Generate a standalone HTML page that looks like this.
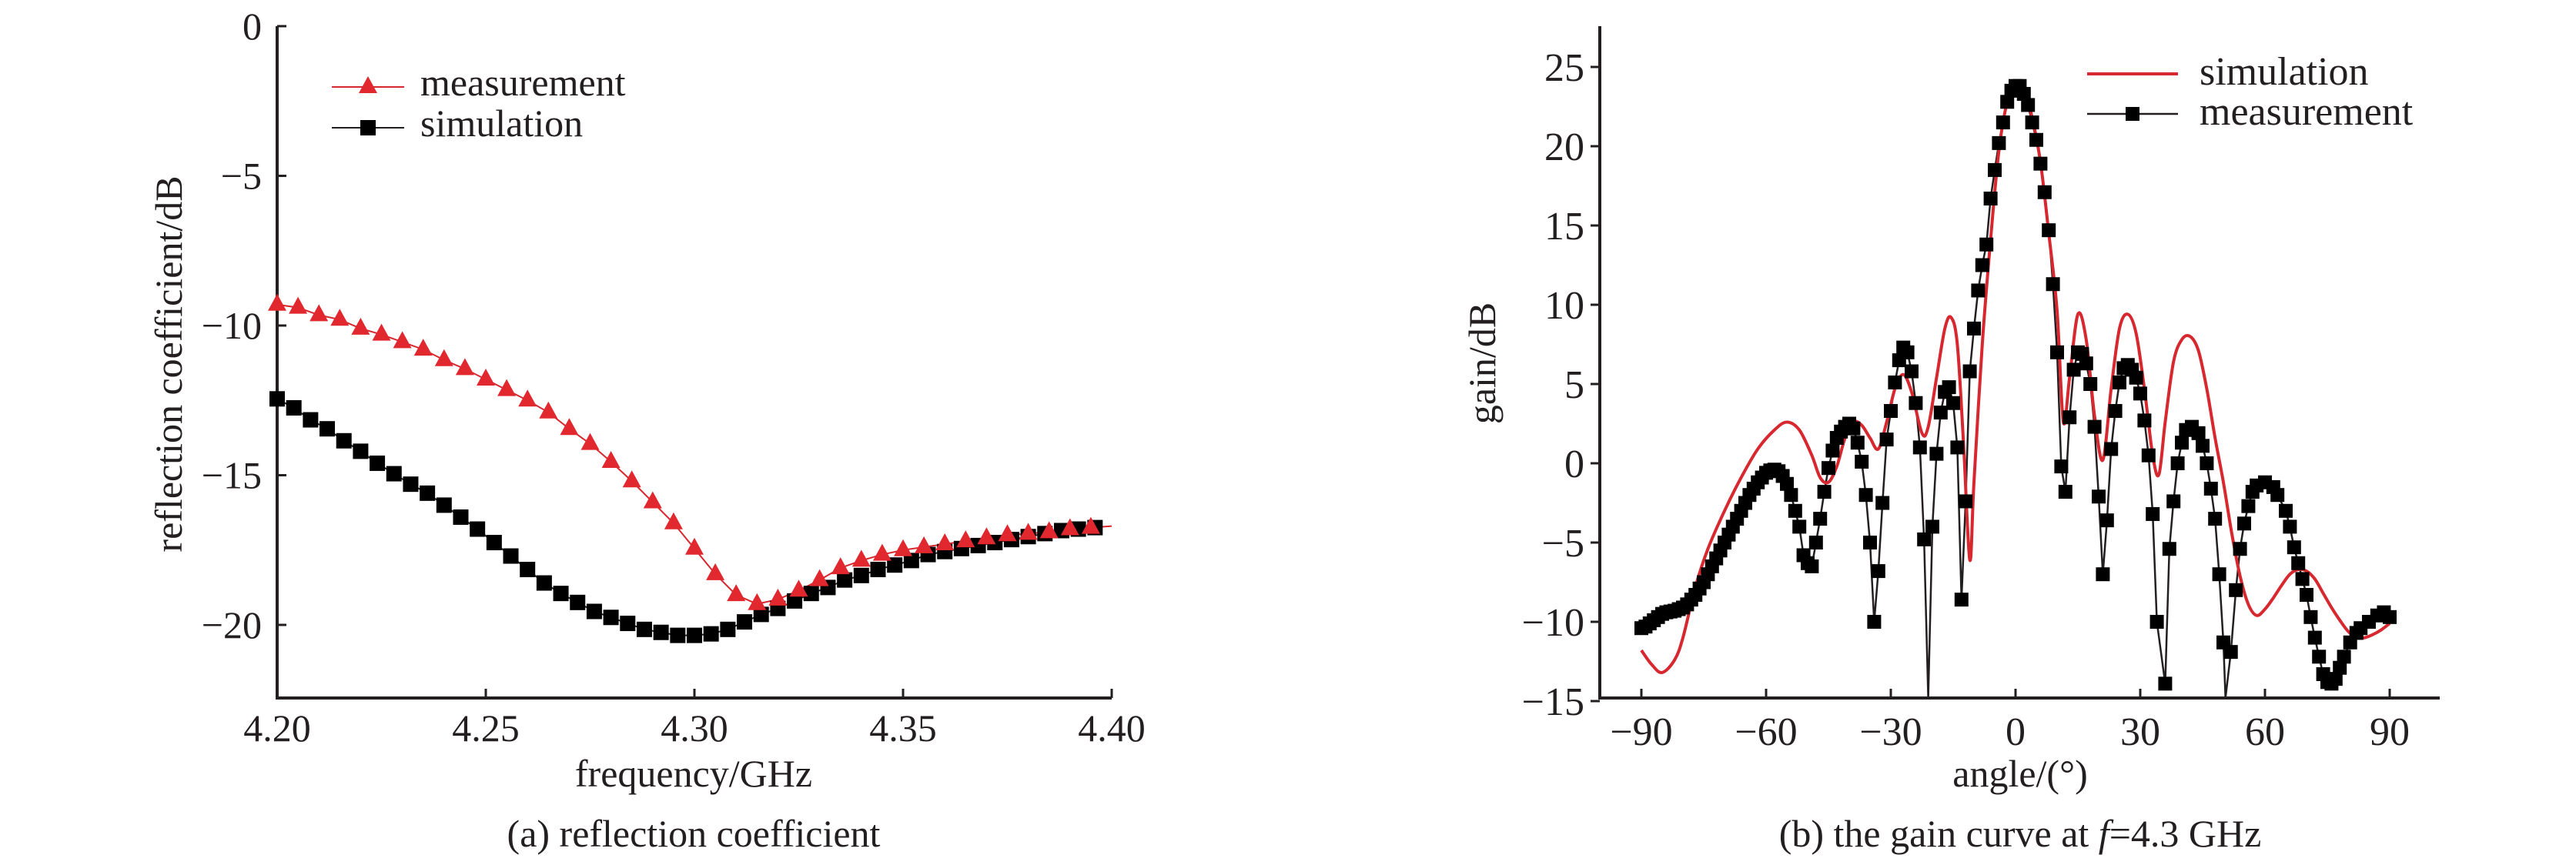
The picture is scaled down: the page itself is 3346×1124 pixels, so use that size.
<!DOCTYPE html>
<html><head><meta charset="utf-8"><style>
html,body{margin:0;padding:0;background:#fff;}
svg{display:block;font-family:"Liberation Serif",serif;}
</style></head><body>
<svg id="fig" width="3346" height="1124" viewBox="0 0 3346 1124" xmlns="http://www.w3.org/2000/svg">
<g id="chartA"></g>
<g id="chartB"></g>
</svg>
<script>
// ---- Chart (a) data ----
const aMeasFreq = [4.200,4.205,4.210,4.215,4.220,4.225,4.230,4.235,4.240,4.245,4.250,4.255,4.260,4.265,4.270,4.275,4.280,4.285,4.290,4.295,4.300,4.305,4.310,4.315,4.320,4.325,4.330,4.335,4.340,4.345,4.350,4.355,4.360,4.365,4.370,4.375,4.380,4.385,4.390,4.395];
const aMeasVal = [-9.3,-9.4,-9.65,-9.8,-10.1,-10.3,-10.55,-10.8,-11.15,-11.45,-11.8,-12.15,-12.5,-12.9,-13.45,-13.95,-14.55,-15.2,-15.9,-16.6,-17.45,-18.3,-19.0,-19.3,-19.15,-18.85,-18.5,-18.1,-17.85,-17.65,-17.5,-17.4,-17.3,-17.2,-17.1,-17.0,-16.95,-16.9,-16.8,-16.75];
const aSimFreq = [4.200,4.204,4.208,4.212,4.216,4.220,4.224,4.228,4.232,4.236,4.240,4.244,4.248,4.252,4.256,4.260,4.264,4.268,4.272,4.276,4.280,4.284,4.288,4.292,4.296,4.300,4.304,4.308,4.312,4.316,4.320,4.324,4.328,4.332,4.336,4.340,4.344,4.348,4.352,4.356,4.360,4.364,4.368,4.372,4.376,4.380,4.384,4.388,4.392,4.396];
const aSimVal = [-12.45,-12.75,-13.15,-13.45,-13.85,-14.2,-14.6,-14.95,-15.3,-15.6,-16.0,-16.4,-16.8,-17.25,-17.7,-18.15,-18.6,-18.95,-19.25,-19.55,-19.75,-19.95,-20.15,-20.25,-20.35,-20.35,-20.3,-20.15,-19.9,-19.65,-19.45,-19.2,-18.95,-18.75,-18.5,-18.35,-18.15,-18.0,-17.85,-17.65,-17.55,-17.45,-17.35,-17.25,-17.15,-17.05,-16.95,-16.85,-16.8,-16.75];
const aXTicks = [4.20,4.25,4.30,4.35,4.40];
const aXTickLabels = ["4.20","4.25","4.30","4.35","4.40"];
const aYTicks = [0,-5,-10,-15,-20];
const aYTickLabels = ["0","\u22125","\u221210","\u221215","\u221220"];

// ---- Chart (b) data ----
const bSimAngle = [-90,-87.5,-85,-82,-80,-77,-74,-70,-66,-62,-58,-55,-52,-49,-47,-45,-43,-41,-39,-37,-35,-33,-31,-29,-27,-25,-22.5,-21,-19,-17,-15.5,-14,-12.5,-11,-10,-8,-6,-4,-2,0,2,4,6,8,10,11.5,13,15,17,19,21,23,25,27,29,31,33,34.5,36,38,40,42,44,46,48,50,52,54,56,58,60,62,64,66,68,70,72,74,76,78,80,82,84,86,88,90];
const bSimGain = [-11.8,-12.7,-13.2,-12.4,-11,-7.8,-5.4,-3.0,-0.9,0.9,2.1,2.6,2.1,0.5,-0.9,-1.2,-0.2,1.6,2.6,2.4,1.6,0.9,2.6,4.7,5.6,4.5,1.9,2.3,5.4,8.5,9.2,7.5,1.2,-6.1,-1.2,7.5,14.1,19.7,22.8,23.9,23.7,21.8,19,14.5,9.6,2.6,5.4,9.4,7.8,3,0.2,4.7,8.5,9.4,8.2,4.7,0.5,-0.7,2.6,6.4,7.8,8.0,7.1,4.7,1.6,-1.2,-4.4,-7.1,-8.9,-9.6,-9.2,-8.5,-7.7,-7.0,-6.7,-6.8,-7.3,-8.2,-9.1,-9.9,-10.6,-11,-11,-10.8,-10.5,-10.1];
const bMeasAngle = [-90,-89,-88,-87,-86,-85,-84,-83,-82,-81,-80,-79,-78,-77,-76,-75,-74,-73,-72,-71,-70,-69,-68,-67,-66,-65,-64,-63,-62,-61,-60,-59,-58,-57,-56,-55,-54,-53,-52,-51,-50,-49,-48,-47,-46,-45,-44,-43,-42,-41,-40,-39,-38,-37,-36,-35,-34,-33,-32,-31,-30,-29,-28,-27,-26,-25,-24,-23,-22,-20,-19,-18,-17,-16,-15,-14,-13,-12,-11,-10,-9,-8,-7,-6,-5,-4,-3,-2,-1,0,1,2,3,4,5,6,7,8,9,10,11,12,13,14,15,16,17,18,19,20,21,22,23,24,25,26,27,28,29,30,31,32,33,34,36,37,38,39,40,41,42.4,44,45,46,47,48,49,50,51.8,53,54,55,56,57,58,60,62,63,65,66,67,68,69,70,71,72,73,74,75,76,77,78,79,80.5,82,83,85,87,88.6,90];
const bMeasGain = [-10.4,-10.3,-10.1,-9.9,-9.7,-9.5,-9.4,-9.35,-9.3,-9.2,-9.1,-8.9,-8.6,-8.3,-7.9,-7.5,-7.0,-6.5,-6.0,-5.5,-5.0,-4.5,-4.0,-3.5,-3.0,-2.5,-2.0,-1.6,-1.2,-0.9,-0.6,-0.45,-0.4,-0.5,-0.8,-1.3,-2.0,-3.0,-4.0,-5.8,-6.3,-6.5,-5.0,-3.5,-1.8,-0.3,0.8,1.6,2.0,2.3,2.5,2.2,1.3,0.1,-2.0,-5.0,-10.0,-6.8,-2.5,1.5,3.3,5.1,6.5,7.3,7.0,5.8,3.8,1.0,-4.8,-4.0,0.6,3.2,4.5,4.8,3.8,1.0,-8.6,-2.4,5.8,8.5,10.9,12.5,13.8,16.7,18.5,20.2,21.5,22.8,23.5,23.8,23.8,23.3,22.6,21.5,20.4,18.9,17.1,14.7,11.3,7.0,-0.2,-1.8,2.9,5.9,7.0,6.9,6.3,5.0,2.3,-2.1,-7.0,-3.6,0.9,3.3,5.1,6.0,6.2,5.9,5.4,4.4,2.7,0.5,-3.2,-10.0,-13.9,-5.4,-2.4,0.0,1.3,2.1,2.3,1.9,1.1,0.0,-1.6,-3.5,-7.0,-11.3,-11.9,-8.0,-5.4,-3.8,-2.7,-1.8,-1.4,-1.2,-1.5,-2.0,-3.0,-4.0,-5.3,-6.3,-7.3,-8.3,-9.7,-11.0,-12.2,-13.3,-13.8,-13.9,-13.6,-12.9,-12.2,-11.3,-10.7,-10.4,-10.0,-9.6,-9.4,-9.7];
const bMeasDips = [[-21,-16],[50.5,-16]];
const bXTicks = [-90,-60,-30,0,30,60,90];
const bXTickLabels = ["\u221290","\u221260","\u221230","0","30","60","90"];
const bYTicks = [25,20,15,10,5,0,-5,-10,-15];
const bYTickLabels = ["25","20","15","10","5","0","\u22125","\u221210","\u221215"];

const NS = "http://www.w3.org/2000/svg";
function mk(parent, tag, attrs){ const e=document.createElementNS(NS,tag); for(const k in attrs) e.setAttribute(k,attrs[k]); parent.appendChild(e); return e; }
function txt(parent, s, x, y, size, anchor, extra){ const t=mk(parent,'text',Object.assign({x:x,y:y,'font-size':size,'text-anchor':anchor,fill:'#231f20'},extra||{})); t.textContent=s; return t; }

// ---------- Chart A ----------
const A = document.getElementById('chartA');
const ax = v => 360 + (v-4.20)/0.05*271;
const ay = v => 34 + (-v)/5*194.5;
const aAxes = mk(A,'path',{d:'M360 34 V907 H1444',fill:'none',stroke:'#231f20','stroke-width':4});


aXTicks.forEach((v,i)=>{
  const l=mk(A,'line',{x1:ax(v),x2:ax(v),y1:907,y2:895,stroke:'#231f20','stroke-width':3});
  
  
  const t=txt(A,aXTickLabels[i],ax(v),963,50,'middle');
  
  
});
aYTicks.forEach((v,i)=>{
  const l=mk(A,'line',{x1:360,x2:372,y1:ay(v),y2:ay(v),stroke:'#231f20','stroke-width':3});
  
  
  const t=txt(A,aYTickLabels[i],340,ay(v)+17,50,'end');
  
  
});
let t1=txt(A,'frequency/GHz',901,1022,50,'middle');


let t2=txt(A,'reflection coefficient/dB',0,0,50,'middle',{transform:'translate(236,473) rotate(-90)'});


let t3=txt(A,'(a) reflection coefficient',901,1100,50,'middle');


let dM = aMeasFreq.map((f,i)=>(i?'L':'M')+ax(f)+' '+ay(aMeasVal[i])).join(' ') + ' L'+ax(4.40)+' '+ay(-16.7);
const mLine=mk(A,'path',{d:dM,fill:'none',stroke:'#d7282f','stroke-width':2});


const sLine=mk(A,'path',{d:aSimFreq.map((f,i)=>(i?'L':'M')+ax(f)+' '+ay(aSimVal[i])).join(' '),fill:'none',stroke:'#231f20','stroke-width':2});


aSimFreq.forEach((f,i)=>{
  const x=ax(f),y=ay(aSimVal[i]);
  const r=mk(A,'rect',{x:x-10,y:y-10,width:20,height:20,fill:'#000'});
  
  
});
aMeasFreq.forEach((f,i)=>{
  const x=ax(f),y=ay(aMeasVal[i]);
  const p=mk(A,'polygon',{points:`${x},${y-14} ${x-12},${y+8} ${x+12},${y+8}`,fill:'#e0282e'});
  
  
});
const LA=mk(A,'g',{});


mk(LA,'line',{x1:431,x2:525,y1:113,y2:113,stroke:'#d7282f','stroke-width':2});
mk(LA,'polygon',{points:'478,99 466,121 490,121',fill:'#e0282e'});
txt(LA,'measurement',546,124,50,'start');
mk(LA,'line',{x1:431,x2:525,y1:166,y2:166,stroke:'#231f20','stroke-width':2});
mk(LA,'rect',{x:468,y:156,width:20,height:20,fill:'#000'});
txt(LA,'simulation',546,177,50,'start');

// ---------- Chart B ----------
const B=document.getElementById('chartB');
const bx = v => 2618 + v/30*162;
const by = v => 602 - v*20.6;
const bAxes=mk(B,'path',{d:'M2078 34 V907 H3169',fill:'none',stroke:'#231f20','stroke-width':4});


bXTicks.forEach((v,i)=>{
  const l=mk(B,'line',{x1:bx(v),x2:bx(v),y1:907,y2:895,stroke:'#231f20','stroke-width':3});
  
  
  const t=txt(B,bXTickLabels[i],bx(v),968,52,'middle');
  
  
});
bYTicks.forEach((v,i)=>{
  const l=mk(B,'line',{x1:2066,x2:2078,y1:by(v),y2:by(v),stroke:'#231f20','stroke-width':3});
  
  
  const t=txt(B,bYTickLabels[i],2058,by(v)+18,52,'end');
  
  
});
let u1=txt(B,'angle/(°)',2624,1022,50,'middle');


let u2=txt(B,'gain/dB',0,0,50,'middle',{transform:'translate(1942,472) rotate(-90)'});


const cap=mk(B,'text',{x:2624,y:1100,'font-size':50,'text-anchor':'middle',fill:'#231f20'});
cap.innerHTML='(b) the gain curve at <tspan font-style="italic">f</tspan>=4.3 GHz';


function smooth(xs,ys){
  const P=xs.map((a,i)=>[bx(a),by(ys[i])]);
  let d='M'+P[0][0]+' '+P[0][1];
  for(let i=0;i<P.length-1;i++){
    const p0=P[Math.max(0,i-1)],p1=P[i],p2=P[i+1],p3=P[Math.min(P.length-1,i+2)];
    const c1=[p1[0]+(p2[0]-p0[0])/6,p1[1]+(p2[1]-p0[1])/6];
    const c2=[p2[0]-(p3[0]-p1[0])/6,p2[1]-(p3[1]-p1[1])/6];
    d+=` C${c1[0]} ${c1[1]} ${c2[0]} ${c2[1]} ${p2[0]} ${p2[1]}`;
  }
  return d;
}
let mpts=bMeasAngle.map((a,i)=>[a,bMeasGain[i]]);
bMeasDips.forEach(dp=>mpts.push(dp));
mpts.sort((p,q)=>p[0]-q[0]);
const bm=mk(B,'path',{d:mpts.map((p,i)=>(i?'L':'M')+bx(p[0])+' '+Math.min(by(p[1]),907)).join(' '),fill:'none',stroke:'#231f20','stroke-width':2.5});


const bs=mk(B,'path',{d:smooth(bSimAngle,bSimGain),fill:'none',stroke:'#d7282f','stroke-width':4});


bMeasAngle.forEach((a,i)=>{
  const r=mk(B,'rect',{x:bx(a)-9,y:by(bMeasGain[i])-9,width:18,height:18,fill:'#000'});
  
  
});
const LB=mk(B,'g',{});


mk(LB,'line',{x1:2711,x2:2829,y1:96,y2:96,stroke:'#d7282f','stroke-width':4});
txt(LB,'simulation',2857,110,52,'start');
mk(LB,'line',{x1:2711,x2:2829,y1:148,y2:148,stroke:'#231f20','stroke-width':2.5});
mk(LB,'rect',{x:2761,y:139,width:18,height:18,fill:'#000'});
txt(LB,'measurement',2857,162,52,'start');
</script>
</body></html>
